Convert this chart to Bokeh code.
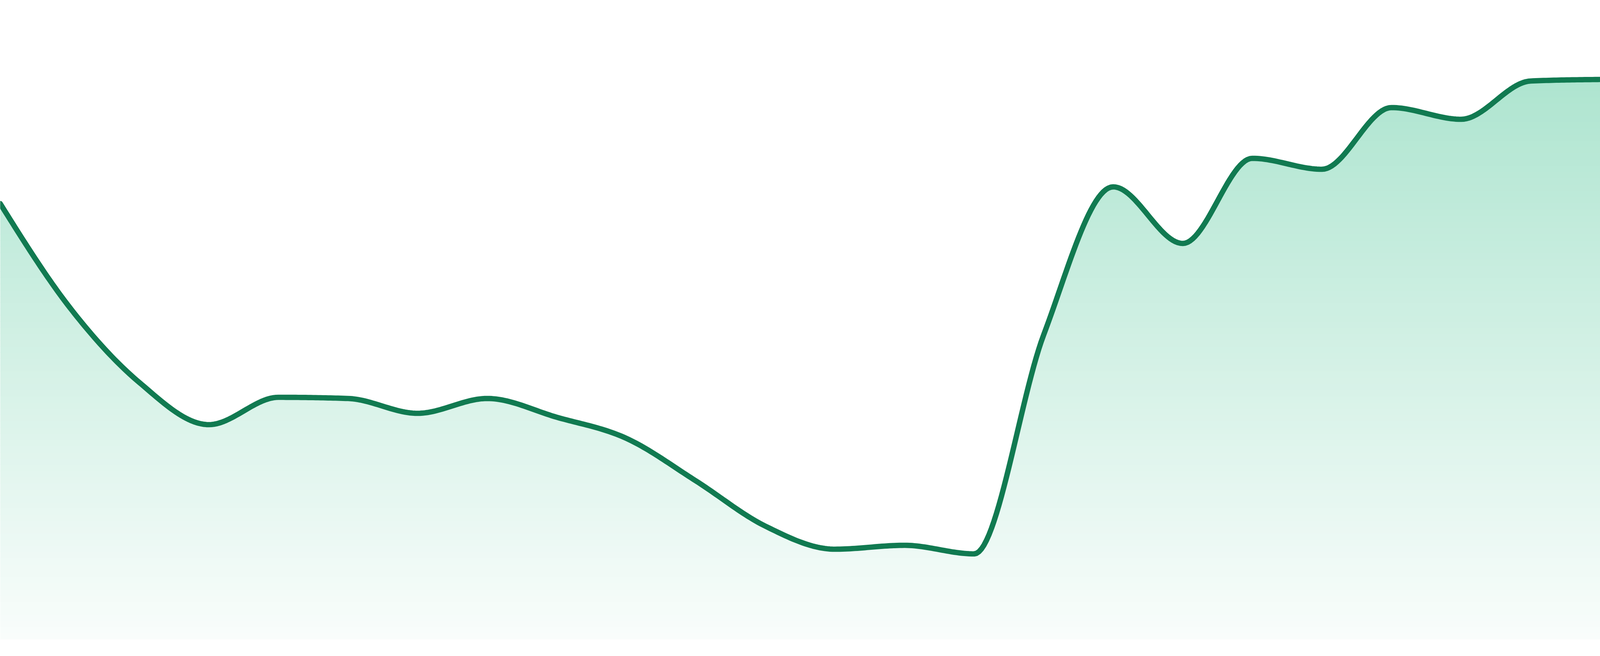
import numpy as np
from bokeh.plotting import figure
from bokeh.models import Range1d
from bokeh.embed import file_html
from bokeh.resources import INLINE

# ---- data ----
points = list(range(24))
values = [1159, 893, 701, 593, 663, 660, 622, 660, 612, 558, 449, 333,
          274, 284, 262, 823, 1202, 1057, 1275, 1247, 1405, 1375, 1473, 1477]
baseline = 43
y_max = 1680

LINE_COLOR = "#117a51"
BASE_RGB = (24, 180, 120)
ALPHA_TOP = 0.35
ALPHA_BOTTOM = 0.025


def monotone_curve(xs, ys, samples=28):
    """Monotone cubic (d3 curveMonotoneX style) through the data points."""
    x = np.asarray(xs, float)
    y = np.asarray(ys, float)
    h = np.diff(x)
    s = np.diff(y) / h
    n = len(x)
    m = np.zeros(n)
    for i in range(1, n - 1):
        s0, s1 = s[i - 1], s[i]
        p = (s0 * h[i] + s1 * h[i - 1]) / (h[i - 1] + h[i])
        m[i] = (np.sign(s0) + np.sign(s1)) * min(abs(s0), abs(s1), 0.5 * abs(p))
    m[0] = (3 * s[0] - m[1]) / 2
    m[-1] = (3 * s[-1] - m[-2]) / 2
    out_x, out_y = [], []
    for i in range(n - 1):
        t = np.linspace(0, 1, samples, endpoint=(i == n - 2))
        h00 = 2 * t**3 - 3 * t**2 + 1
        h10 = t**3 - 2 * t**2 + t
        h01 = -2 * t**3 + 3 * t**2
        h11 = t**3 - t**2
        out_x.extend(x[i] + t * h[i])
        out_y.extend(h00 * y[i] + h10 * h[i] * m[i] + h01 * y[i + 1] + h11 * h[i] * m[i + 1])
    return np.array(out_x), np.array(out_y)


cx, cy = monotone_curve(points, values)

p = figure(width=4096, height=1434, sizing_mode="stretch_both",
           output_backend="svg", toolbar_location=None,
           x_range=Range1d(points[0], points[-1]), y_range=Range1d(0, y_max),
           min_border=0, min_border_left=0, min_border_right=0,
           min_border_top=0, min_border_bottom=0)
p.axis.visible = False
p.xgrid.visible = False
p.ygrid.visible = False
p.outline_line_color = None
p.background_fill_color = "white"
p.border_fill_color = "white"

# vertical gradient fill emulated with horizontal bands clipped by the curve
top = max(values)
nb = 90
edges = np.linspace(baseline, top + 2, nb + 1)
for k in range(nb):
    lo, hi = edges[k], edges[k + 1]
    mid = 0.5 * (lo + hi)
    frac = (mid - baseline) / (top - baseline)
    a = ALPHA_BOTTOM + (ALPHA_TOP - ALPHA_BOTTOM) * frac
    r = int(round(255 * (1 - a) + BASE_RGB[0] * a))
    g = int(round(255 * (1 - a) + BASE_RGB[1] * a))
    b = int(round(255 * (1 - a) + BASE_RGB[2] * a))
    color = "#%02x%02x%02x" % (r, g, b)
    y1 = np.minimum(cy, lo)
    y2 = np.minimum(cy, hi + 1.5)
    p.varea(x=cx, y1=y1, y2=y2, fill_color=color, fill_alpha=1.0)

p.line(cx, cy, line_color=LINE_COLOR, line_width=13.7, line_join="round", line_cap="round")

open("out.html", "w").write(file_html(p, INLINE))
